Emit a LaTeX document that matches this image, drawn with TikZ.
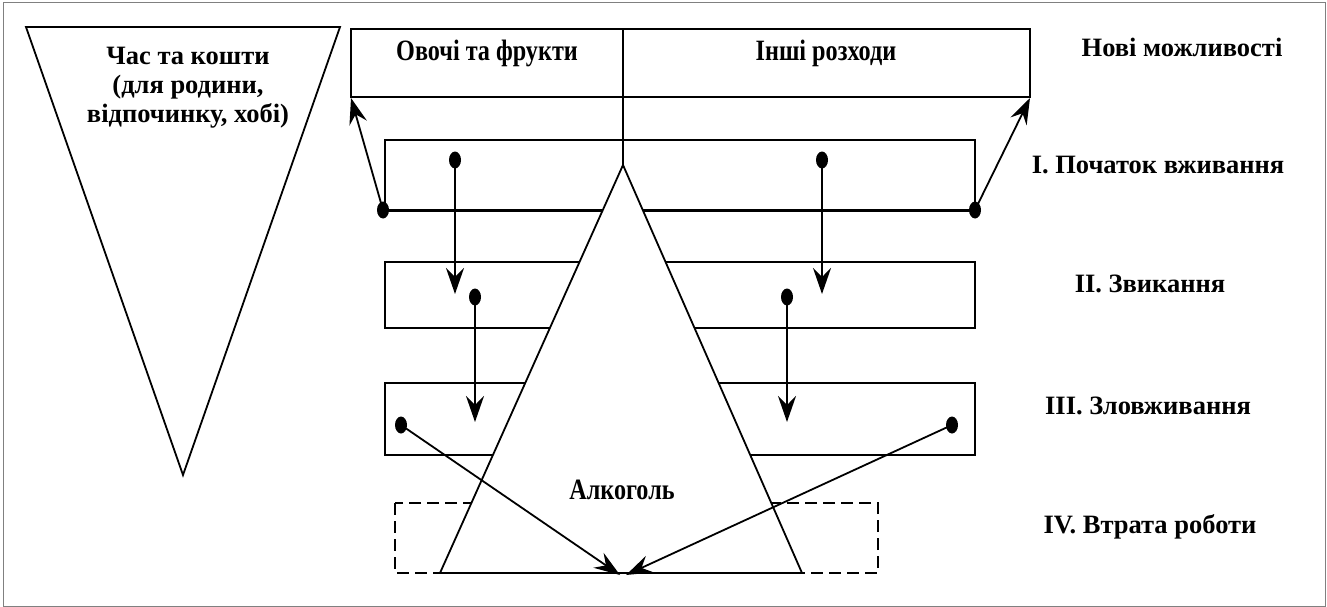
\documentclass[tikz,border=0pt]{standalone}
\usepackage{fontspec}
\setmainfont{Liberation Serif}
\newfontfamily\condfont[FakeStretch=0.82]{Liberation Serif}
\usetikzlibrary{arrows.meta,shapes.geometric}
\begin{document}
\begin{tikzpicture}[x=1pt,y=-1pt,
  ln/.style={line width=1.8pt},
  box/.style={draw, line width=1.8pt},
  dot/.style={fill=black, ellipse, draw=none, minimum width=12pt, minimum height=17pt, inner sep=0pt},
  arr/.style={line width=1.8pt, -{Stealth[length=26pt,width=18pt,inset=9pt]}},
  lbl/.style={font=\fontsize{26.5}{29}\selectfont\bfseries},
  clbl/.style={font=\condfont\fontsize{29.5}{32}\selectfont\bfseries}]
\useasboundingbox (0,0) rectangle (1327,607);
\draw[gray, line width=1pt] (3,3) rectangle (1325,606);
% left triangle
\coordinate (lt1) at (26,27);
\coordinate (lt2) at (340,27);
\coordinate (lt3) at (183,475);
\draw[ln, line join=miter] (lt1) -- (lt2) -- (lt3) -- cycle;
\node[lbl, align=center] (tk) at (188,88) {Час та кошти\\(для родини,\\відпочинку, хобі)};
% top rectangle
\coordinate (tA) at (351,29);
\coordinate (tB) at (1030,97);
\draw[box, line width=2.4pt] (tA) rectangle (tB);
\node[clbl] (veg) at (487,53) {Овочі та фрукти};
\node[clbl] (oth) at (826,53) {Інші розходи};
% stage boxes
\draw[box] (385,140) rectangle (975,210);
\draw[box] (385,262) rectangle (975,328);
\draw[box] (385,383) rectangle (975,455);
\draw[box, dashed, dash pattern=on 12pt off 6pt] (395,503) rectangle (878,573);
% bottom line of stage I with dots
\coordinate (d1L) at (383,210);
\coordinate (d1R) at (975,210);
\draw[line width=3pt] (d1L) -- (d1R);
% divider
\coordinate (apex) at (623,165);
\draw[ln] (623,29) -- (apex);
% big triangle
\coordinate (bL) at (440,573);
\coordinate (bR) at (802,573);
\draw[ln, fill=white, line join=miter] (apex) -- (bR) -- (bL) -- cycle;
\node[clbl] (alc) at (622,490) {Алкоголь};
% dots
\node[dot] (p1) at (383,210) {};
\node[dot] (p2) at (975,210) {};
\node[dot] (a1) at (455,160) {};
\node[dot] (a2) at (822,160) {};
\node[dot] (b1) at (475,297) {};
\node[dot] (b2) at (787,297) {};
\node[dot] (c1) at (401,425) {};
\node[dot] (c2) at (952,425) {};
\coordinate (ta1) at (455,294);
\coordinate (ta2) at (822,294);
\coordinate (tb1) at (475,422);
\coordinate (tb2) at (787,422);
\coordinate (tc1) at (620,575);
\coordinate (tc2) at (626,575);
\coordinate (cornL) at (351,98);
\coordinate (cornR) at (1030,98);
% arrows
\draw[arr] (p1.center) -- (cornL);
\draw[arr] (p2.center) -- (cornR);
\draw[arr] (a1.center) -- (ta1);
\draw[arr] (a2.center) -- (ta2);
\draw[arr] (b1.center) -- (tb1);
\draw[arr] (b2.center) -- (tb2);
\draw[arr] (c1.center) -- (tc1);
\draw[arr] (c2.center) -- (tc2);
% right labels
\node[lbl] (n0) at (1182,47) {Нові можливості};
\node[lbl] (n1) at (1158,165) {I. Початок вживання};
\node[lbl] (n2) at (1150,284) {II. Звикання};
\node[lbl] (n3) at (1148,406) {III. Зловживання};
\node[lbl] (n4) at (1150,527) {IV. Втрата роботи};
\end{tikzpicture}
\end{document}
